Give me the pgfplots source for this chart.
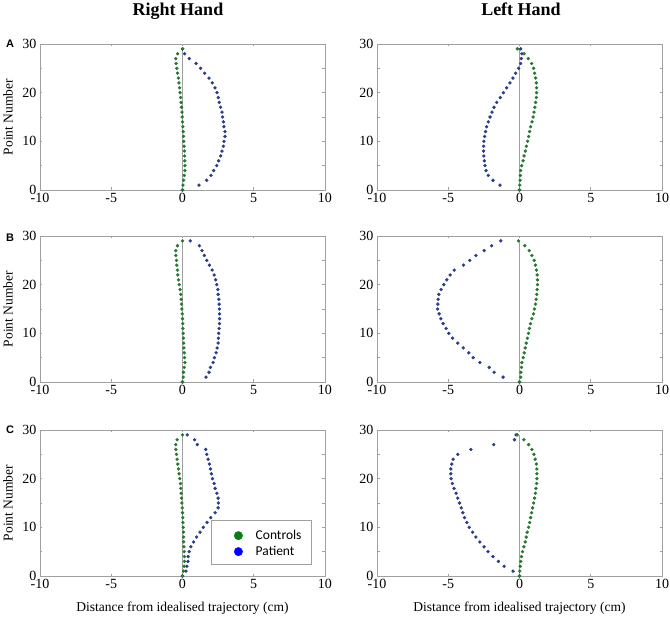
\documentclass[border=0pt]{standalone}
\usepackage{fontspec}
\setmainfont{Liberation Serif}
\newfontfamily\carlito{Carlito}
\newfontfamily\arial{Liberation Sans}
\usepackage{pgfplots}
\pgfplotsset{compat=1.18}
\usepackage{pgfplotstable}

\definecolor{dotgreen}{RGB}{38,120,48}
\definecolor{dotblue}{RGB}{42,60,140}
\definecolor{leggreen}{RGB}{10,125,20}
\definecolor{legblue}{RGB}{0,0,255}
\definecolor{axgray}{RGB}{160,160,160}

% columns: y (point number), ctrl (controls), pat (patient)
\pgfplotstableread{
y ctrl pat
0 0.00 0.00
1 0.03 1.16
2 0.08 1.70
3 0.13 2.00
4 0.17 2.19
5 0.17 2.40
6 0.16 2.54
7 0.15 2.68
8 0.13 2.77
9 0.11 2.87
10 0.09 2.91
11 0.07 2.98
12 0.05 2.98
13 0.03 2.91
14 0.00 2.87
15 -0.02 2.82
16 -0.04 2.77
17 -0.07 2.68
18 -0.10 2.58
19 -0.13 2.51
20 -0.17 2.42
21 -0.20 2.28
22 -0.25 2.09
23 -0.29 1.86
24 -0.35 1.55
25 -0.40 1.27
26 -0.45 0.95
27 -0.47 0.48
28 -0.34 0.15
29 0.00 0.01
}\RA
\pgfplotstableread{
y ctrl pat
0 0.00 0.00
1 0.02 -1.37
2 0.04 -1.86
3 0.06 -2.19
4 0.08 -2.35
5 0.15 -2.42
6 0.25 -2.47
7 0.32 -2.50
8 0.41 -2.52
9 0.48 -2.52
10 0.57 -2.50
11 0.64 -2.45
12 0.71 -2.38
13 0.78 -2.31
14 0.88 -2.19
15 0.95 -2.07
16 1.02 -1.93
17 1.08 -1.79
18 1.13 -1.60
19 1.18 -1.35
20 1.20 -1.13
21 1.20 -0.90
22 1.18 -0.67
23 1.13 -0.46
24 1.06 -0.27
25 0.99 -0.06
26 0.85 0.08
27 0.62 0.13
28 0.32 0.17
29 -0.15 0.08
}\LA
\pgfplotstableread{
y ctrl pat
0 0.00 0.00
1 0.05 1.65
2 0.07 1.86
3 0.12 1.96
4 0.17 2.15
5 0.14 2.24
6 0.12 2.36
7 0.10 2.43
8 0.09 2.50
9 0.07 2.52
10 0.05 2.54
11 0.03 2.57
12 0.02 2.60
13 0.00 2.60
14 -0.02 2.60
15 -0.05 2.59
16 -0.07 2.57
17 -0.09 2.55
18 -0.12 2.50
19 -0.17 2.48
20 -0.23 2.40
21 -0.28 2.33
22 -0.33 2.22
23 -0.35 2.08
24 -0.40 1.89
25 -0.42 1.70
26 -0.47 1.53
27 -0.47 1.37
28 -0.35 1.18
29 0.00 0.54
}\RB
\pgfplotstableread{
y ctrl pat
0 0.00 0.00
1 0.09 -1.15
2 0.09 -1.78
3 0.14 -2.13
4 0.16 -2.78
5 0.26 -3.25
6 0.33 -3.56
7 0.40 -3.95
8 0.47 -4.33
9 0.55 -4.70
10 0.63 -4.96
11 0.70 -5.15
12 0.77 -5.36
13 0.87 -5.52
14 0.98 -5.64
15 1.05 -5.75
16 1.12 -5.73
17 1.17 -5.71
18 1.21 -5.66
19 1.24 -5.50
20 1.26 -5.31
21 1.26 -5.10
22 1.24 -4.87
23 1.19 -4.58
24 1.12 -3.93
25 1.03 -3.49
26 0.87 -3.06
27 0.68 -2.48
28 0.37 -1.96
29 -0.07 -1.31
}\LB
\pgfplotstableread{
y ctrl pat
0 0.00 0.00
1 0.07 0.24
2 0.12 0.31
3 0.14 0.38
4 0.14 0.40
5 0.12 0.47
6 0.10 0.59
7 0.09 0.78
8 0.08 0.99
9 0.07 1.23
10 0.05 1.46
11 0.03 1.72
12 0.02 1.98
13 0.00 2.29
14 -0.02 2.50
15 -0.05 2.52
16 -0.07 2.50
17 -0.09 2.41
18 -0.12 2.29
19 -0.14 2.22
20 -0.19 2.10
21 -0.24 2.03
22 -0.28 1.96
23 -0.33 1.89
24 -0.38 1.80
25 -0.42 1.70
26 -0.47 1.63
27 -0.47 1.04
28 -0.38 0.85
29 0.00 0.33
}\RC
\pgfplotstableread{
y ctrl pat
0 0.00 0.00
1 0.02 -0.45
2 0.05 -1.08
3 0.09 -1.48
4 0.14 -1.86
5 0.21 -2.21
6 0.31 -2.49
7 0.40 -2.78
8 0.47 -3.06
9 0.54 -3.29
10 0.64 -3.53
11 0.71 -3.69
12 0.78 -3.86
13 0.85 -3.98
14 0.92 -4.09
15 0.99 -4.21
16 1.06 -4.33
17 1.11 -4.45
18 1.15 -4.59
19 1.20 -4.71
20 1.22 -4.80
21 1.22 -4.82
22 1.22 -4.82
23 1.18 -4.75
24 1.10 -4.66
25 1.01 -4.33
26 0.87 -3.41
27 0.64 -1.81
28 0.31 -0.35
29 -0.16 -0.24
}\LC

\newcommand\tickfont{\fontsize{14}{16}\selectfont}
\newcommand\labfont{\fontsize{13.5}{16}\selectfont}
\newcommand\legfont{\carlito\fontsize{13.5}{15}\selectfont}

\pgfplotsset{
  panel/.style={
    scale only axis, width=285pt, height=146pt, anchor=south west,
    xmin=-10, xmax=10, ymin=0, ymax=30,
    xtick={-10,-5,0,5,10}, ytick={0,10,20,30}, minor ytick={5,15,25},
    axis line style={axgray, line width=0.8pt},
    tick style={axgray, line width=0.6pt},
    major tick length=2.5pt, minor tick length=2.5pt, tick align=inside,
    tick label style={font=\tickfont, black},
    /pgf/number format/assume math mode=true,
    every axis label/.append style={font=\labfont},
    ylabel style={at={(axis description cs:-0.112,0.5)}, anchor=center},
    xlabel style={at={(axis description cs:0.5,0)}, anchor=base, yshift=-35pt},
  },
  ideal/.style={axgray, line width=1.2pt},
  pat/.style={only marks, mark=*, mark size=1.5pt, dotblue},
  ctrl/.style={only marks, mark=*, mark size=1.5pt, dotgreen},
}

\begin{document}
\begin{tikzpicture}
\useasboundingbox (0,0) rectangle (670pt,619pt);

% Row A
\begin{axis}[panel, at={(40pt,429pt)}, ylabel={Point Number}]
\addplot[ideal] coordinates {(0,0) (0,29)};
\addplot[pat] table[x=pat,y=y] {\RA};
\addplot[ctrl] table[x=ctrl,y=y] {\RA};
\end{axis}
\begin{axis}[panel, at={(377pt,429pt)}]
\addplot[ideal] coordinates {(0,0) (0,29)};
\addplot[pat] table[x=pat,y=y] {\LA};
\addplot[ctrl] table[x=ctrl,y=y] {\LA};
\end{axis}

% Row B
\begin{axis}[panel, at={(40pt,237pt)}, ylabel={Point Number}]
\addplot[ideal] coordinates {(0,0) (0,29)};
\addplot[pat] table[x=pat,y=y] {\RB};
\addplot[ctrl] table[x=ctrl,y=y] {\RB};
\end{axis}
\begin{axis}[panel, at={(377pt,237pt)}]
\addplot[ideal] coordinates {(0,0) (0,29)};
\addplot[pat] table[x=pat,y=y] {\LB};
\addplot[ctrl] table[x=ctrl,y=y] {\LB};
\end{axis}

% Row C
\begin{axis}[panel, at={(40pt,43pt)}, ylabel={Point Number},
  xlabel={Distance from idealised trajectory (cm)},
  legend style={at={(rel axis cs:0.599,0.384)}, anchor=north west,
    draw=axgray, fill=white, font=\legfont, outer sep=0pt,
    inner xsep=0pt, inner ysep=0pt, row sep=0pt, column sep=0pt,
    nodes={inner xsep=0pt, inner ysep=0pt}},
  legend cell align=left]
\addlegendimage{legend image code/.code={%
  \path[draw=none, fill=none] (0pt,-8pt) rectangle (45pt,15.7pt);
  \fill[leggreen] (27.7pt,0pt) circle (4.2pt);}}
\addlegendentry{Controls\hspace{10pt}\mbox{}}
\addlegendimage{legend image code/.code={%
  \path[draw=none, fill=none] (0pt,-12.3pt) rectangle (45pt,8pt);
  \fill[legblue] (27.7pt,0pt) circle (4.2pt);}}
\addlegendentry{Patient}
\addplot[ideal, forget plot] coordinates {(0,0) (0,29)};
\addplot[pat, forget plot] table[x=pat,y=y] {\RC};
\addplot[ctrl, forget plot] table[x=ctrl,y=y] {\RC};
\end{axis}
\begin{axis}[panel, at={(377pt,43pt)},
  xlabel={Distance from idealised trajectory (cm)}]
\addplot[ideal] coordinates {(0,0) (0,29)};
\addplot[pat] table[x=pat,y=y] {\LC};
\addplot[ctrl] table[x=ctrl,y=y] {\LC};
\end{axis}

% Titles and panel letters
\node[anchor=base, font=\bfseries\fontsize{18}{20}\selectfont] at (178pt,603pt) {Right Hand};
\node[anchor=base, font=\bfseries\fontsize{18}{20}\selectfont] at (521pt,603pt) {Left Hand};
\node[anchor=base west, inner sep=0pt, font=\arial\bfseries\fontsize{11}{12}\selectfont] at (6pt,571pt) {A};
\node[anchor=base west, inner sep=0pt, font=\arial\bfseries\fontsize{11}{12}\selectfont] at (6pt,377pt) {B};
\node[anchor=base west, inner sep=0pt, font=\arial\bfseries\fontsize{11}{12}\selectfont] at (6pt,185pt) {C};
\end{tikzpicture}
\end{document}
